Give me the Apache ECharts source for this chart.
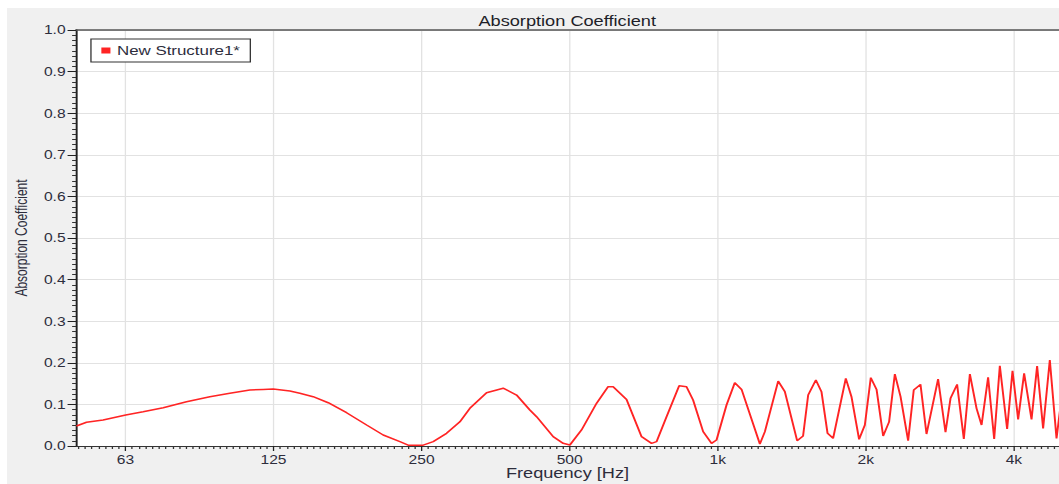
<!DOCTYPE html>
<html><head><meta charset="utf-8">
<script src="https://cdn.jsdelivr.net/npm/echarts@6/dist/echarts.min.js"></script>
<style>
html,body{margin:0;padding:0;background:#fff;width:1059px;height:484px;overflow:hidden;}
#bg{position:absolute;left:7px;top:8px;width:1052px;height:476px;background:#f0f0f0;}
#chart{position:absolute;left:0;top:0;width:815px;height:484px;transform:scaleX(1.29939);transform-origin:0 0;}
</style></head><body><div id="bg"></div><div id="chart"></div>
<script>
// Frequencies in Hz and absorption coefficient
const frequencies = [49.7,52.1,56.3,62.6,67.9,74.6,83.2,92.8,101.9,111.9,119.1,124.8,135.0,141.4,150.5,161.5,176.0,193.3,208.9,225.9,234.8,251.9,264.0,281.0,299.1,313.4,338.9,366.3,390.0,415.0,428.3,462.9,485.0,500.5,528.6,567.1,598.7,612.9,652.6,700.1,733.6,750.9,786.9,834.8,864.0,891.0,934.0,971.4,994.4,1042,1083,1118,1218,1247,1327,1369,1450,1491,1527,1583,1625,1672,1716,1821,1870,1938,1991,2047,2103,2169,2230,2291,2353,2438,2503,2583,2657,2805,2904,2973,3066,3164,3255,3358,3438,3545,3647,3745,3875,3974,4080,4196,4344,4459,4586,4732,4883,5029];
const absorption = [0.048,0.057,0.0625,0.0745,0.0825,0.092,0.1065,0.1185,0.1266,0.1346,0.136,0.137,0.132,0.127,0.1185,0.104,0.080,0.0505,0.0264,0.0104,0.002,0.002,0.0104,0.0305,0.058,0.0905,0.128,0.139,0.1225,0.0865,0.0705,0.0224,0.0064,0.0024,0.0385,0.1026,0.1426,0.1426,0.112,0.0224,0.0064,0.0104,0.0705,0.145,0.1426,0.1106,0.0345,0.0064,0.0144,0.0986,0.152,0.136,0.0048,0.0345,0.156,0.1306,0.0128,0.024,0.1226,0.1587,0.1306,0.0305,0.0184,0.1627,0.1185,0.016,0.0505,0.1643,0.136,0.024,0.058,0.173,0.1185,0.0128,0.1346,0.148,0.0288,0.161,0.033,0.1146,0.148,0.0168,0.173,0.0905,0.0505,0.165,0.0168,0.193,0.041,0.181,0.064,0.1747,0.064,0.192,0.0425,0.2067,0.0184,0.14];
const tickFreqs = [62.5,125,250,500,1000,2000,4000];
const tickLabels = ['63','125','250','500','1k','2k','4k'];
const seriesName = 'New Structure1*';
const minFreq = 49.6, maxFreq = 4940;

const toX = f => Math.log2(f / 1000);
const xMin = toX(minFreq), xMax = toX(maxFreq);
const majorX = tickFreqs.map(toX);
const labelMap = {};
majorX.forEach((v, i) => { labelMap[Math.round(v)] = tickLabels[i]; });
const minorX = [];
const SUB = 22;
for (let k = Math.ceil(xMin * SUB); k <= Math.floor(xMax * SUB); k++) {
  if (k % SUB !== 0) minorX.push(k / SUB);
}
const data = frequencies.map((f, i) => [toX(f), absorption[i]]);

const txt = '#2d2d3c';
const chart = echarts.init(document.getElementById('chart'), null, {renderer: 'svg'});
chart.setOption({
  animation: false,
  backgroundColor: 'transparent',
  color: ['#ff2424'],
  graphic: [{
    type: 'text', x: 436.5, y: 20.5,
    style: {text: 'Absorption Coefficient', fill: '#1e1e28', font: '14px "Liberation Sans", Arial, sans-serif', textAlign: 'center', textVerticalAlign: 'middle'}
  }],
  legend: {
    left: 70, top: 39, orient: 'vertical',
    data: [{name: seriesName, icon: 'rect'}],
    itemWidth: 7, itemHeight: 6,
    padding: [5, 8, 5, 8],
    backgroundColor: '#fff', borderColor: '#333', borderWidth: 1, borderRadius: 0,
    textStyle: {color: txt, fontSize: 13, fontFamily: '"Liberation Sans", Arial, sans-serif'}
  },
  grid: {left: 58.5, right: 0, top: 30, bottom: 38, show: true, backgroundColor: '#fff', borderWidth: 0,
    containLabel: false, outerBoundsMode: 'none'},
  xAxis: [{
    type: 'value', min: xMin, max: xMax,
    name: 'Frequency [Hz]', nameLocation: 'middle', nameGap: 20, nameMoveOverlap: false,
    nameTextStyle: {color: txt, fontSize: 14, lineHeight: 14, fontFamily: '"Liberation Sans", Arial, sans-serif'},
    axisLine: {show: true, onZero: false, lineStyle: {color: '#333', width: 1}},
    axisTick: {show: true, customValues: majorX, length: 5, lineStyle: {color: '#222'}},
    axisLabel: {customValues: majorX, margin: 7.5, color: txt, fontSize: 12, lineHeight: 12, fontFamily: '"Liberation Sans", Arial, sans-serif',
      formatter: v => labelMap[Math.round(v)] || ''},
    splitLine: {show: true, lineStyle: {color: '#e2e2e2', width: 1}}
  }, {
    type: 'value', min: xMin, max: xMax, position: 'bottom',
    axisLine: {show: false, onZero: false},
    axisTick: {show: true, customValues: minorX, length: 3, lineStyle: {color: '#333'}},
    axisLabel: {show: false}, splitLine: {show: false}
  }, {
    type: 'value', min: xMin, max: xMax, position: 'top',
    axisLine: {show: true, onZero: false, lineStyle: {color: '#555', width: 1.5}},
    axisTick: {show: false}, axisLabel: {show: false}, splitLine: {show: false}
  }],
  yAxis: [{
    type: 'value', min: 0, max: 1, interval: 0.1, position: 'left',
    name: 'Absorption Coefficient', nameLocation: 'middle', nameGap: 36, nameRotate: 90, nameMoveOverlap: false,
    nameTextStyle: {color: txt, fontSize: 12, fontFamily: '"Liberation Sans", Arial, sans-serif'},
    axisLine: {show: true, onZero: false, lineStyle: {color: '#222', width: 1.5}},
    axisTick: {show: true, length: 6.5, lineStyle: {color: '#222'}},
    minorTick: {show: true, splitNumber: 8, length: 3, lineStyle: {color: '#333'}},
    axisLabel: {margin: 8, color: txt, fontSize: 12, fontFamily: '"Liberation Sans", Arial, sans-serif', formatter: v => v.toFixed(1)},
    splitLine: {show: true, lineStyle: {color: '#e2e2e2', width: 1}}
  }],
  series: [{
    name: seriesName, type: 'line', xAxisIndex: 0, yAxisIndex: 0,
    data: data, showSymbol: false, symbol: 'none', clip: true,
    lineStyle: {color: '#ff2424', width: 1.5}
  }]
});
</script></body></html>
